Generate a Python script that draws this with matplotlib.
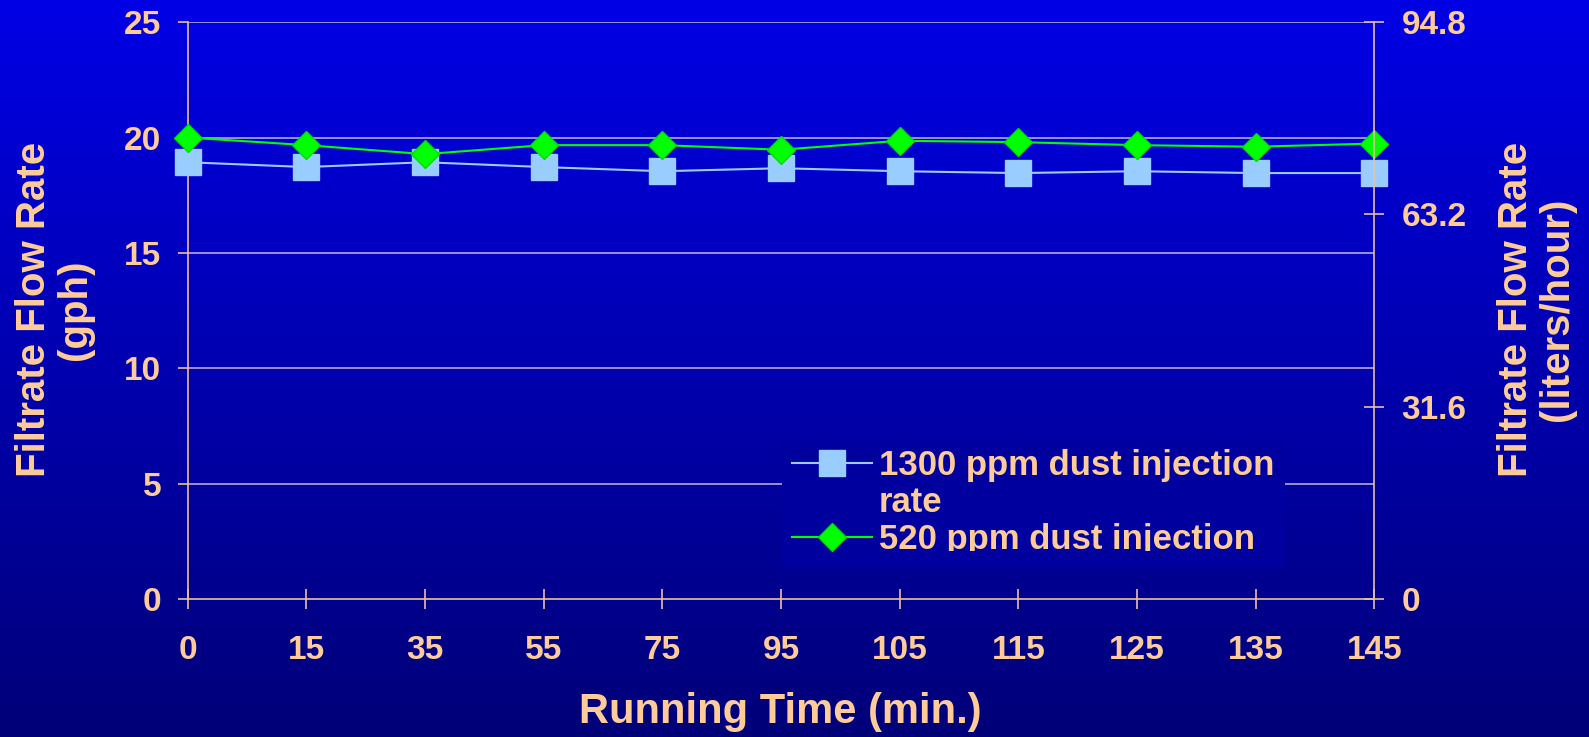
import numpy as np
import matplotlib
matplotlib.use("Agg")
import matplotlib.pyplot as plt
from matplotlib.transforms import Bbox, TransformedBbox
from matplotlib.lines import Line2D

# data
times = ["0", "15", "35", "55", "75", "95", "105", "115", "125", "135", "145"]
flow_1300 = [18.93, 18.72, 18.93, 18.72, 18.54, 18.67, 18.54, 18.46, 18.54, 18.46, 18.46]
flow_520 = [20.0, 19.67, 19.28, 19.67, 19.67, 19.47, 19.86, 19.8, 19.67, 19.6, 19.74]
left_ticks = [0, 5, 10, 15, 20, 25]
right_ticks = [0, 31.6, 63.2, 94.8]

txt = "#FFCC99"
axcol = "#E8C0A0"
grid = "#B8A8D8"
plt.rcParams["font.family"] = ["Liberation Sans", "DejaVu Sans"]
plt.rcParams["font.weight"] = "bold"

fig = plt.figure(figsize=(15.89, 7.37), dpi=100)

# vertical gradient background
bg = fig.add_axes([0, 0, 1, 1], zorder=-5)
top = np.array([0, 0, 230]) / 255
bot = np.array([0, 0, 120]) / 255
t = np.linspace(0, 1, 256)[:, None]
grad = top[None, :] * (1 - t) + bot[None, :] * t
bg.imshow(grad[:, None, :], aspect="auto", extent=[0, 1, 0, 1])
bg.axis("off")

ax = fig.add_axes([0.118, 0.187, 0.747, 0.783])
ax.patch.set_alpha(0)
x = np.arange(len(times))

for v in left_ticks[1:]:
    ax.axhline(v, color=grid, lw=1.2, zorder=1)

ax.plot(x, flow_1300, color="#99CCFF", lw=1.5, marker="s", ms=18.5,
        mfc="#99CCFF", mec="#99CCFF", clip_on=False, zorder=3)
ax.plot(x, flow_520, color="#00FF00", lw=1.5, marker="D", ms=14,
        mfc="#00FF00", mec="#00DD00", clip_on=False, zorder=4)

ax.set_xlim(0, len(times) - 1)
ax.set_ylim(0, 25)
ax.set_xticks(x)
ax.set_xticklabels(times)
ax.set_yticks(left_ticks)

for s in ["top", "right"]:
    ax.spines[s].set_visible(False)
for s in ["left", "bottom"]:
    ax.spines[s].set_color(axcol)
    ax.spines[s].set_linewidth(1.2)

ax.tick_params(axis="y", direction="out", length=7, width=1.2, color=axcol,
               labelcolor=txt, labelsize=24, pad=12)
ax.tick_params(axis="x", direction="inout", length=14, width=1.2, color=axcol,
               labelcolor=txt, labelsize=24, pad=19)

ax2 = ax.twinx()
ax2.set_ylim(0, 94.8)
ax2.set_yticks(right_ticks)
ax2.set_yticklabels(["0", "31.6", "63.2", "94.8"])
for s in ["top", "left", "bottom"]:
    ax2.spines[s].set_visible(False)
ax2.spines["right"].set_color(axcol)
ax2.spines["right"].set_linewidth(1.2)
ax2.tick_params(axis="y", direction="inout", length=15, width=1.2, color=axcol,
                labelcolor=txt, labelsize=24, pad=12)

fig.text(0.034, 0.58, "Filtrate Flow Rate\n(gph)", rotation=90, ha="center",
         va="center", multialignment="center", color=txt, fontsize=29,
         fontweight="bold", linespacing=1.1)
fig.text(0.967, 0.58, "Filtrate Flow Rate\n(liters/hour)", rotation=90,
         ha="center", va="center", multialignment="center", color=txt,
         fontsize=29, fontweight="bold", linespacing=1.1)
fig.text(0.491, 0.034, "Running Time (min.)", ha="center", va="center",
         color=txt, fontsize=30, fontweight="bold")

handles = [
    Line2D([], [], color="#99CCFF", lw=1.5, marker="s", ms=18.5, mfc="#99CCFF", mec="#99CCFF"),
    Line2D([], [], color="none"),
    Line2D([], [], color="#00FF00", lw=1.5, marker="D", ms=14, mfc="#00FF00", mec="#00DD00"),
]
labels = ["1300 ppm dust injection", "rate", "520 ppm dust injection"]
leg = fig.legend(handles, labels, loc="upper left", bbox_to_anchor=(0.492, 0.405),
                 frameon=True, facecolor="#00009E", edgecolor="none", framealpha=1,
                 fontsize=25, labelcolor=txt, handlelength=2.3, handletextpad=0.2,
                 labelspacing=0.12, borderpad=0.3, borderaxespad=0)
leg.get_frame().set_boxstyle("square", pad=0)
clip = TransformedBbox(Bbox([[0, 186 / 737], [1, 1]]), fig.transFigure)
for tx in leg.get_texts():
    tx.set_clip_box(clip)
    tx.set_clip_on(True)

fig.savefig("out.png", dpi=100)
